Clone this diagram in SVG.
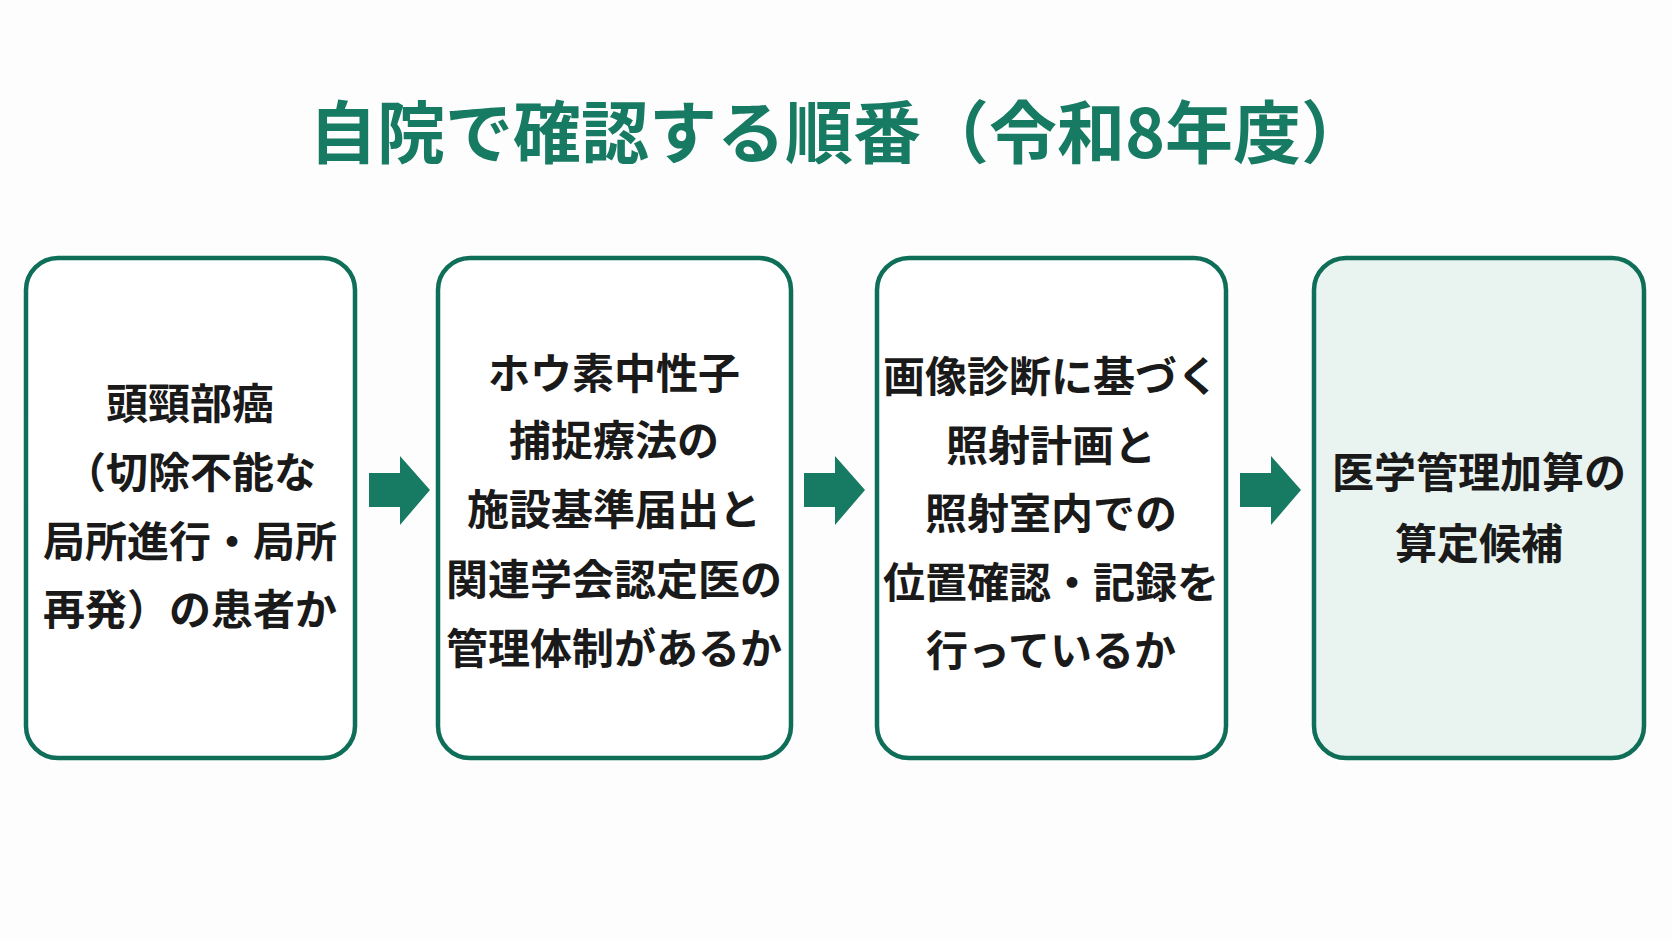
<svg xmlns="http://www.w3.org/2000/svg" width="1672" height="941" viewBox="0 0 1672 941">
<style>
.box{fill:#fff;stroke:#0e6e57;stroke-width:4.5}
.t{font-family:"Noto Sans CJK JP",sans-serif;font-weight:bold;font-size:42px;fill:#1a1a1a;text-anchor:middle;dominant-baseline:central}
.title{font-family:"Noto Sans CJK JP",sans-serif;font-weight:bold;font-size:68px;fill:#177a62;text-anchor:middle}
.arr{fill:#177a62}
</style>
<rect width="1672" height="941" fill="#fdfdfd"/>
<text class="title" x="839" y="158">自院で確認する順番（令和8年度）</text>
<g id="n1"><rect class="box" x="26" y="258" width="329" height="500" rx="32"/>
<text class="t" x="190" y="400">頭頸部癌</text><text class="t" x="190" y="469">（切除不能な</text><text class="t" x="190" y="538">局所進行・局所</text><text class="t" x="190" y="606">再発）の患者か</text></g>
<g id="n2"><rect class="box" x="438" y="258" width="353" height="500" rx="32"/>
<text class="t" x="614" y="370">ホウ素中性子</text><text class="t" x="614" y="437">捕捉療法の</text><text class="t" x="614" y="506">施設基準届出と</text><text class="t" x="614" y="576">関連学会認定医の</text><text class="t" x="614" y="645">管理体制があるか</text></g>
<g id="n3"><rect class="box" x="877" y="258" width="349" height="500" rx="32"/>
<text class="t" x="1051" y="373">画像診断に基づく</text><text class="t" x="1051" y="442">照射計画と</text><text class="t" x="1051" y="510">照射室内での</text><text class="t" x="1051" y="579">位置確認・記録を</text><text class="t" x="1051" y="647">行っているか</text></g>
<g id="n4"><rect class="box" x="1314" y="258" width="330" height="500" rx="32" style="fill:#e9f4f1"/>
<text class="t" x="1479" y="469">医学管理加算の</text><text class="t" x="1479" y="540">算定候補</text></g>
<g id="connectors">
<polygon class="arr" points="369,473 400,473 400,456 430,490 400,525 400,507 369,507"/>
<polygon class="arr" points="804,473 835,473 835,456 865,490 835,525 835,507 804,507"/>
<polygon class="arr" points="1240,473 1271,473 1271,456 1301,490 1271,525 1271,507 1240,507"/>
</g>
</svg>
